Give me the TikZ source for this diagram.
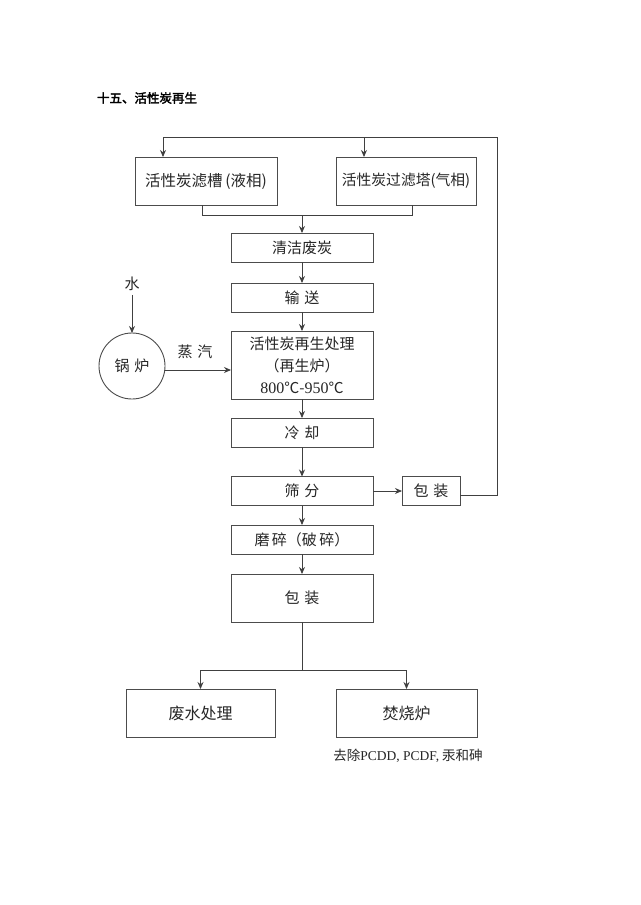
\documentclass[tikz,border=0pt]{standalone}
\usepackage{fontspec}
\setmainfont{Noto Sans CJK SC}[AutoFakeBold=2.5]
\newfontfamily\lat{Liberation Serif}
\usetikzlibrary{arrows.meta,calc}
\begin{document}
\begin{tikzpicture}[x=1pt,y=-1pt,
  every node/.style={inner sep=0pt,outer sep=0pt,font=\fontsize{15}{20}\selectfont,text=black!85},
  box/.style={draw=black!70,line width=0.9pt,minimum width=142pt,minimum height=29pt,align=center},
  line/.style={draw=black!75,line width=0.9pt},
  arr/.style={line,-{Stealth[length=7pt,width=6pt]}}]
\useasboundingbox[fill=white] (0,0) rectangle (640,905);
\node[font=\fontsize{12.5}{14}\selectfont\bfseries,text=black] (title) at (147,98) {十五、活性炭再生};
% top boxes
\node[box,minimum width=142pt,minimum height=48pt,text width=142pt,font=\fontsize{15.5}{18}\selectfont] (b1) at (206,181) {活性炭滤槽\,(液相)};
\node[box,minimum width=140pt,minimum height=48pt,text width=140pt,font=\fontsize{14.8}{18}\selectfont] (b2) at (406,181) {活性炭过滤塔(气相)};
% main column
\node[box] (clean) at (302,247.5) {清洁废炭};
\node[box] (convey) at (302,297.5) {输\,\,送};
\node[box,minimum height=68pt,font=\fontsize{15}{22}\selectfont] (regen) at (302,365) {活性炭再生处理\\（再生炉）\\{\lat\fontsize{16}{22}\selectfont 800}℃-{\lat\fontsize{16}{22}\selectfont 950}℃};
\node[box] (cool) at (302,432.5) {冷\,\,却};
\node[box] (sieve) at (302,491) {筛\,\,分};
\node[box,minimum width=58pt] (packs) at (431,491) {包\,\,装};
\node[box] (grind) at (302,539.5) {磨\,碎（破\,碎）};
\node[box,minimum height=48pt] (packb) at (302,598) {包\,\,装};
% bottom
\node[box,minimum width=149pt,minimum height=48pt,font=\fontsize{16}{20}\selectfont] (waste) at (200.5,713) {废水处理};
\node[box,minimum width=141pt,minimum height=48pt,font=\fontsize{16}{20}\selectfont] (incin) at (406.5,713) {焚烧炉};
\node[font=\fontsize{13.5}{15}\selectfont] (cap) at (408,756) {去除{\lat PCDD, PCDF,} 汞和砷};
% boiler
\node[draw=black!70,line width=0.9pt,circle,minimum size=66pt] (boiler) at (132,366) {锅\,\,炉};
\node (water) at (132,284) {水};
\node (steam) at (195,352) {蒸\,\,汽};
% coordinates
\coordinate (tl) at (163,137);
\coordinate (tr) at (497,137);
\coordinate (br) at (497,495);
\coordinate (jl) at (202,215);
\coordinate (jr) at (412,215);
\coordinate (jm) at (302,215);
\coordinate (sj) at (302,670);
\coordinate (sl) at (200.5,670);
\coordinate (sr) at (406.5,670);
% connectors
\draw[line] (packs.east |- br) -- (br) -- (tr) -- (tl);
\draw[arr] (tl) -- (b1.north -| tl);
\draw[arr] (b2.north |- tl) ++(-42,0) -- ++(0,20);
\draw[line] (b1.south -| jl) -- (jl) -- (jr) -- (b2.south -| jr);
\draw[arr] (jm) -- (clean.north);
\draw[arr] (clean.south) -- (convey.north);
\draw[arr] (convey.south) -- (regen.north);
\draw[arr] (regen.south) -- (cool.north);
\draw[arr] (cool.south) -- (sieve.north);
\draw[arr] (sieve.east) -- (packs.west);
\draw[arr] (sieve.south) -- (grind.north);
\draw[arr] (grind.south) -- (packb.north);
\draw[line] (packb.south) -- (sj);
\draw[arr] (sj) -- (sl) -- (waste.north);
\draw[arr] (sj) -- (sr) -- (incin.north);
\draw[arr] (water.south) ++(0,4) -- (boiler.north);
\draw[arr] (boiler.east |- regen.west) ++(0,5) -- ($(regen.west)+(0,5)$);
\end{tikzpicture}
\end{document}
